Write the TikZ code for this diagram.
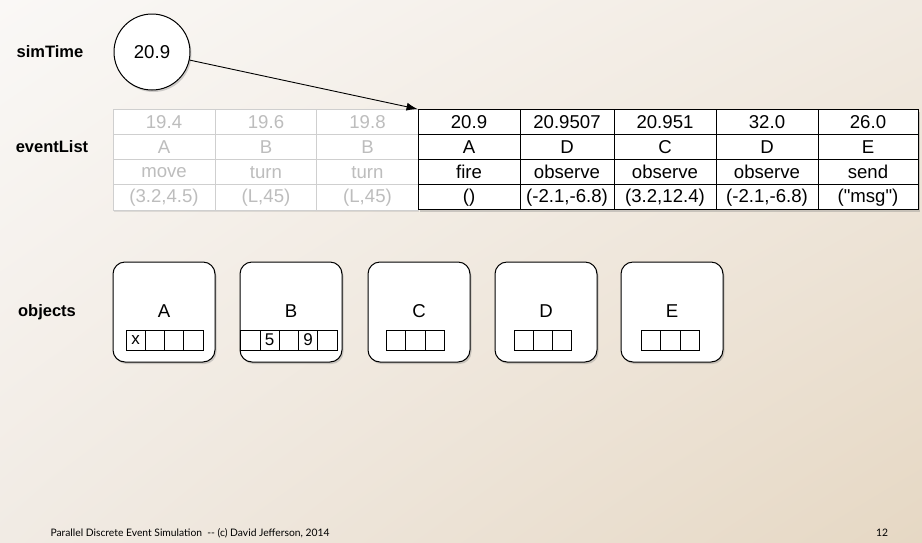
\documentclass[tikz,border=0pt]{standalone}
\usepackage{fontspec}
\setmainfont{Liberation Sans}
\newfontfamily\cellfont{Liberation Sans}
\newfontfamily\footfont{Lato}
\usetikzlibrary{arrows.meta,shadows,shadings}

\definecolor{bgTL}{HTML}{FAF8F6}
\definecolor{bgTR}{HTML}{F1EAE1}
\definecolor{bgBL}{HTML}{F1EBE4}
\definecolor{bgBR}{HTML}{E6D8C4}
\definecolor{oldline}{HTML}{CFCFCF}
\definecolor{oldtext}{HTML}{BDBDBD}

\begin{document}
\begin{tikzpicture}[x=1pt,y=-1pt,
    lbl/.style={font=\fontsize{16.5}{18}\selectfont\bfseries},
    shad/.style={drop shadow={opacity=0.35,shadow xshift=1.5pt,shadow yshift=-2pt}},
    oldcell/.style={draw=oldline,line width=0.8pt,fill=white,text=oldtext,inner sep=0,
        minimum height=25.1,font=\cellfont\fontsize{18.6}{21}\selectfont},
    newcell/.style={draw=black,line width=0.9pt,fill=white,inner sep=0,
        minimum height=25.1,font=\cellfont\fontsize{18.6}{21}\selectfont},
    objbox/.style={draw,line width=1pt,fill=white,rounded corners=12,
        minimum width=102,minimum height=100,shad},
    reg/.style={draw,line width=0.9pt,inner sep=0,minimum width=19.3,minimum height=20,
        font=\cellfont\fontsize{17}{19}\selectfont}]

    % 背景
    \useasboundingbox (0,0) rectangle (922,542);
    \shade[upper left=bgTL,upper right=bgTR,lower left=bgBL,lower right=bgBR]
        (0,0) rectangle (922,542);

    % 左侧标签
    \node[lbl] (simlbl) at (50,52) {simTime};
    \node[lbl] (evlbl) at (52,147) {eventList};
    \node[lbl] (objlbl) at (47,312) {objects};

    % 当前时间
    \node[circle,draw,line width=1pt,fill=white,minimum size=76,shad,
        font=\cellfont\fontsize{18.6}{21}\selectfont] (sim) at (152,52) {20.9};

    % 已处理的事件 (灰色)
    \fill[white,drop shadow={opacity=0.2,shadow xshift=1pt,shadow yshift=-2pt}]
        (113,109.5) rectangle (418,209.9);
    \foreach \c/\cx/\t/\o/\m/\a in {1/164/19.4/A/move/{(3.2,4.5)},
            2/266/19.6/B/turn/{(L,45)}, 3/367.5/19.8/B/turn/{(L,45)}} {
        \node[oldcell,minimum width=102] (old\c t) at (\cx,122.05) {\t};
        \node[oldcell,minimum width=102] (old\c o) at (\cx,147.15) {\o};
        \node[oldcell,minimum width=102] (old\c m) at (\cx,172.25) {\m};
        \node[oldcell,minimum width=102] (old\c a) at (\cx,197.35) {\a};
    }

    % 待处理的事件
    \fill[white,shad] (418,109.5) rectangle (918,209.9);
    \foreach \c/\cx/\w/\t/\o/\m/\a in {1/469/102/20.9/A/fire/(),
            2/567/94/20.9507/D/observe/{(-2.1,-6.8)},
            3/665/102/20.951/C/observe/{(3.2,12.4)},
            4/767/102/32.0/D/observe/{(-2.1,-6.8)},
            5/868/100/26.0/E/send/{("msg")}} {
        \node[newcell,minimum width=\w] (new\c t) at (\cx,122.05) {\t};
        \node[newcell,minimum width=\w] (new\c o) at (\cx,147.15) {\o};
        \node[newcell,minimum width=\w] (new\c m) at (\cx,172.25) {\m};
        \node[newcell,minimum width=\w] (new\c a) at (\cx,197.35) {\a};
    }

    % simTime 指向下一个事件
    \draw[-{Latex[length=11pt,width=8pt]},line width=0.9pt] (sim) -- (new1t.north west);

    % 对象
    \foreach \n/\cx in {A/164,B/291,C/419,D/546,E/672} {
        \node[objbox] (obj\n) at (\cx,312) {};
        \node[font=\cellfont\fontsize{18.6}{21}\selectfont] (name\n) at (\cx,311) {\n};
    }

    % 对象的状态
    \node[reg] (regA1) at (135.6,340) {x};
    \foreach \i in {2,3,4}
        \node[reg] (regA\i) at ({116.3+19.3*\i},340) {};
    \foreach \i/\v in {1/,2/5,3/,4/9,5/}
        \node[reg] (regB\i) at ({231+19.3*\i},340) {\v};
    \foreach \n/\x in {C/386.5,D/514,E/641.5}
        \foreach \i in {1,2,3}
            \node[reg] (reg\n\i) at ({\x-9.65+19.3*\i},340) {};

    % 页脚
    \node[font=\footfont\fontsize{10.3}{12}\selectfont,anchor=west] (foot) at (47,533)
        {Parallel Discrete Event Simulation\ \ -- (c) David Jefferson, 2014};
    \node[font=\footfont\fontsize{10.3}{12}\selectfont] (pageno) at (882,533) {12};
\end{tikzpicture}
\end{document}
